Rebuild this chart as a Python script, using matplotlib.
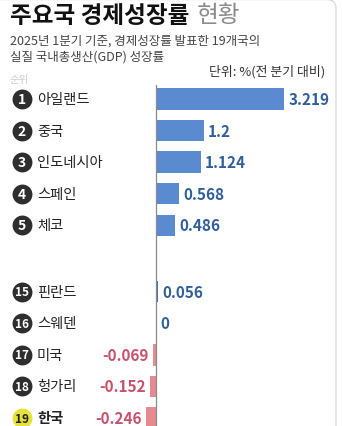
import matplotlib
matplotlib.use("Agg")
import matplotlib.pyplot as plt
from matplotlib.transforms import blended_transform_factory
from matplotlib.patches import FancyBboxPatch

plt.rcParams['font.family'] = ['Noto Sans CJK KR', 'DejaVu Sans']

# Data
ranks = [1, 2, 3, 4, 5, 15, 16, 17, 18, 19]
countries = ["아일랜드", "중국", "인도네시아", "스페인", "체코",
             "핀란드", "스웨덴", "미국", "헝가리", "한국"]
growth = [3.219, 1.2, 1.124, 0.568, 0.486, 0.056, 0.0, -0.069, -0.152, -0.246]
value_labels = ["3.219", "1.2", "1.124", "0.568", "0.486",
                "0.056", "0", "-0.069", "-0.152", "-0.246"]
highlight = "한국"

W, H = 342, 427
fig = plt.figure(figsize=(W / 100, H / 100), dpi=100)
fig.patch.set_facecolor("white")

# Card outline
card = FancyBboxPatch((-20, -20), 356, H + 19.5, boxstyle="round,pad=0,rounding_size=9",
                      transform=None, facecolor="none", edgecolor="#dcdcdc", lw=1.0,
                      zorder=10)
fig.patches.append(card)

def fy(py):
    return 1 - py / H

# Row positions: top five, a gap, then bottom five
positions = [0, 1, 2, 3, 4, 6.1, 7.1, 8.1, 9.1, 10.1]

ax_top_px = 86
ax = fig.add_axes([0, 0, 1, fy(ax_top_px)])
ax.set_facecolor("none")
px_per_unit = 39.8
zero_px = 156
ax.set_xlim(-zero_px / px_per_unit, (W - zero_px) / px_per_unit)
ax.set_ylim(10.35, -0.44)
ax.axis("off")

pos_color = "#5a8bd0"
neg_color = "#e58a8f"
bar_colors = [pos_color if v >= 0 else neg_color for v in growth]
bar_colors[5] = "#3f6fae"
ax.barh(positions, growth, height=0.68, color=bar_colors, zorder=2)
ax.axvline(0, color="#8a8a8a", lw=0.9, zorder=3)

tr = blended_transform_factory(ax.transAxes, ax.transData)

for r, name, v, lab, y in zip(ranks, countries, growth, value_labels, positions):
    hl = name == highlight
    ax.scatter([21.5 / W], [y], s=205, color="#e6e23a" if hl else "#2e2e2e",
               transform=tr, zorder=4, linewidths=0)
    ax.text(21.5 / W, y, str(r), transform=tr, ha="center", va="center",
            fontsize=10 if r < 10 else 8.5, fontweight="bold",
            color="#222222" if hl else "white", zorder=5)
    ax.text(37 / W, y, name, transform=tr, ha="left", va="center",
            fontsize=10.3, fontweight="bold" if hl else "normal", color="#222222")
    if v >= 0:
        ax.annotate(lab, (v, y), xytext=(3.2, 0), textcoords="offset points",
                    ha="left", va="center", fontsize=11, fontweight="bold",
                    color="#2f5f9a")
    else:
        ax.annotate(lab, (v, y), xytext=(-3.2, 0), textcoords="offset points",
                    ha="right", va="center", fontsize=11, fontweight="bold",
                    color="#c9506a")

# Titles
renderer = fig.canvas.get_renderer()
t1 = fig.text(10 / W, fy(16), "주요국 경제성장률", fontsize=17, fontweight=900,
              color="#111111", ha="left", va="center")
bb = t1.get_window_extent(renderer)
fig.text((bb.x1 + 7) / W, fy(16), "현황", fontsize=17, color="#8a8a8a",
         ha="left", va="center")

fig.text(10 / W, fy(41), "2025년 1분기 기준, 경제성장률 발표한 19개국의",
         fontsize=9, color="#444444", ha="left", va="center")
fig.text(10 / W, fy(57), "실질 국내총생산(GDP) 성장률",
         fontsize=9, color="#444444", ha="left", va="center")
fig.text(325 / W, fy(72), "단위: %(전 분기 대비)", fontsize=9.3, color="#333333",
         ha="right", va="center")
fig.text(10 / W, fy(80), "순위", fontsize=7.5, color="#cccccc", ha="left", va="center")

fig.savefig("out.png", dpi=100, facecolor="white")
